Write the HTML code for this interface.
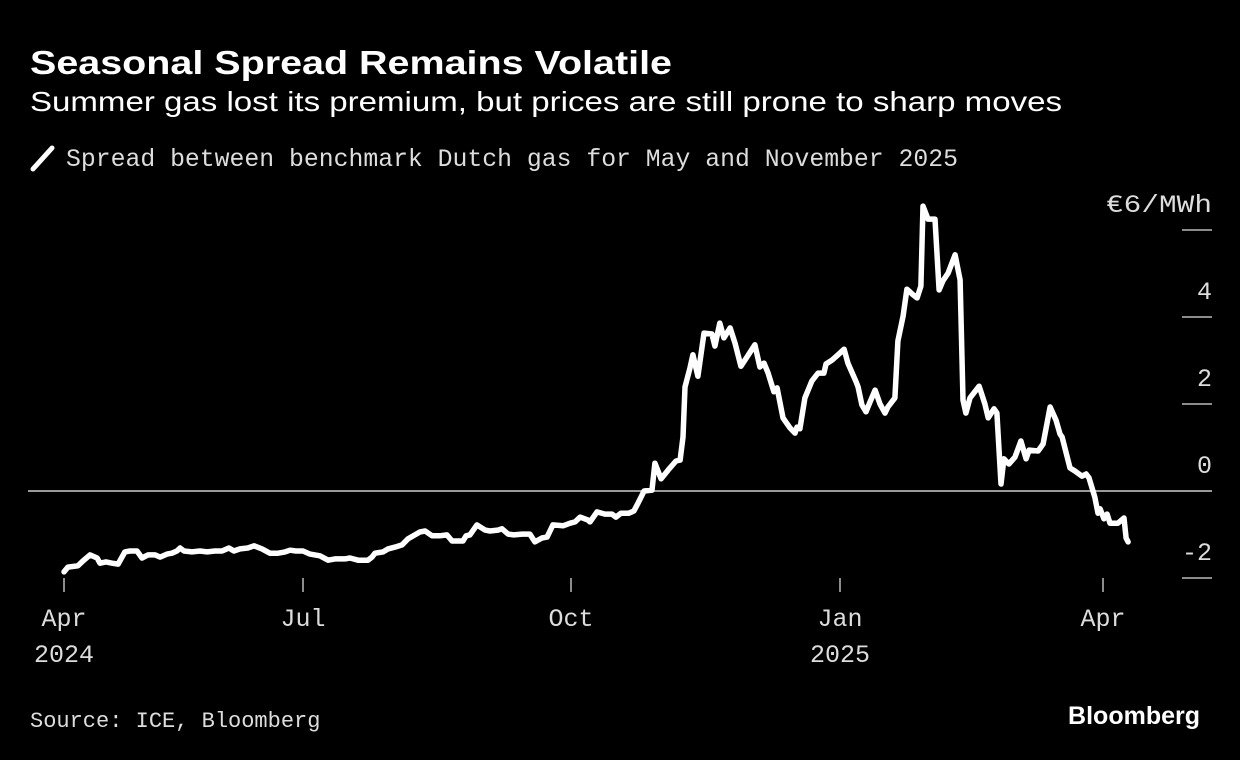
<!DOCTYPE html>
<html><head><meta charset="utf-8"><style>
body{margin:0;background:#000;width:1240px;height:760px;overflow:hidden}
svg{display:block}
.mono{font-family:"Liberation Mono","DejaVu Sans Mono",monospace}
.sans{font-family:"Liberation Sans",sans-serif}
</style></head><body>
<svg id="chart" width="1240" height="760">
<text x="30" y="74" class="sans" font-size="33" font-weight="bold" fill="#fff" textLength="642" lengthAdjust="spacingAndGlyphs">Seasonal Spread Remains Volatile</text>
<text x="30" y="111" class="sans" font-size="28" fill="#fff" textLength="1032" lengthAdjust="spacingAndGlyphs">Summer gas lost its premium, but prices are still prone to sharp moves</text>
<line x1="33" y1="169" x2="52" y2="148" stroke="#fff" stroke-width="5" stroke-linecap="round"/>
<text x="66" y="166" class="mono" font-size="25" fill="#ddd" textLength="892" lengthAdjust="spacingAndGlyphs">Spread between benchmark Dutch gas for May and November 2025</text>
<g id="yaxis"></g>
<g id="xaxis"></g>
<g id="series"></g>
<text x="30" y="727" class="mono" font-size="22" fill="#ddd">Source: ICE, Bloomberg</text>
<text x="1200" y="724" text-anchor="end" class="sans" font-size="25" font-weight="bold" fill="#fff">Bloomberg</text>
</svg>
<script>
const days=[0,1.5,5.3,7.2,9.9,12.6,13.7,16,18.3,20.6,23.2,25.1,27.8,29.7,32,34.7,36.6,39.2,41.1,43,44.2,45.7,48.7,51.8,54.5,57.5,60.2,62.8,64.7,67,70,72.4,75.4,78.4,81.5,84.2,86.1,88.3,91,
93.4,96.8,99.6,102,105.4,107.1,109.9,113.3,114.7,115.7,118.5,120.2,122.6,125,127,129.4,131.2,132.9,135.3,138,140.4,142.2,145.9,147,148.3,150.7,153.5,155.2,157.9,159.3,161.4,163.4,166.2,168.9,170.6,173,174.8,176.8,180.3,182.7,
184.4,186.1,188.8,189.5,191.9,194.6,197,198.4,200.1,202.8,204.5,205.9,208,210.7,211.7,213.8,216.2,218.9,220.3,221.3,222,223.7,224.7,226.4,228.5,231.2,232.2,233.9,235.3,237.4,239.1,241.1,243.2,245.9,247.6,249,250.4,252.4,253.5,255.5,257.9,259.6,260.3,261.3,263,265.4,267.5,269.5,270.2,272.3,274.3,
276.4,277.7,280.5,281.2,282.5,283.9,285.3,287,288.7,290.4,291.4,293.8,294.8,296.6,297.9,300,301.4,302.7,303.4,305.1,307.5,308.9,310.2,312,314.4,316.1,317.1,318.1,319.5,322.6,324.6,325.7,327.7,328.7,330.1,331.1,332.8,334.9,336.9,338.7,339.7,342.8,344.5,346.9,348.9,350.3,351,353.7,355.4,357.8,359.2,360.2,362.2,363.3,364,365.3,366.4,367.4,370.1,372.2,372.9,373.6];
const values=[-1.86,-1.75,-1.72,-1.61,-1.47,-1.54,-1.66,-1.63,-1.66,-1.68,-1.40,-1.38,-1.38,-1.54,-1.47,-1.47,-1.52,-1.45,-1.43,-1.38,-1.31,-1.38,-1.40,-1.38,-1.40,-1.38,-1.38,-1.31,-1.38,-1.33,-1.31,-1.26,-1.33,-1.43,-1.43,-1.40,-1.36,-1.38,-1.38,
-1.45,-1.49,-1.59,-1.56,-1.56,-1.54,-1.59,-1.59,-1.52,-1.43,-1.40,-1.33,-1.29,-1.24,-1.10,-1.01,-0.94,-0.92,-1.03,-1.03,-1.01,-1.15,-1.15,-1.03,-1.01,-0.78,-0.90,-0.92,-0.90,-0.87,-0.99,-1.01,-0.99,-0.99,-1.17,-1.08,-1.06,-0.78,-0.80,-0.74,
-0.71,-0.60,-0.67,-0.71,-0.48,-0.53,-0.53,-0.60,-0.51,-0.51,-0.46,-0.28,0,0.02,0.64,0.28,0.48,0.69,0.71,1.24,2.39,2.83,3.13,2.64,3.63,3.61,3.33,3.86,3.52,3.75,3.40,2.87,3.08,3.36,2.85,2.94,2.71,2.28,2.37,1.68,1.45,1.33,1.47,1.43,2.14,2.53,2.71,2.71,2.92,3.01,3.13,
3.26,2.94,2.51,2.39,1.98,1.82,2.05,2.32,2.00,1.79,1.93,2.14,3.45,4.02,4.64,4.51,4.44,4.71,6.55,6.25,6.25,4.62,4.83,5.01,5.43,4.85,2.09,1.79,2.14,2.41,2.00,1.68,1.89,1.79,0.16,0.74,0.62,0.78,1.15,0.74,0.94,0.92,1.08,1.93,1.63,1.31,1.24,0.53,0.46,0.34,0.39,0.30,-0.14,-0.51,-0.41,-0.64,-0.53,-0.74,-0.74,-0.62,-1.08,-1.17];
const yTicks=[6,4,2,0,-2];
const yTickLabels=["€6/MWh","4","2","0","-2"];
const xTickDays=[0,91,183,275,365];
const xTickLabels=[["Apr","2024"],["Jul",""],["Oct",""],["Jan","2025"],["Apr",""]];
const xAnchorPx=[64,303,571,840,1103];
const NS="http://www.w3.org/2000/svg";
function y(v){return 491-v*43.5;}
function x(d){
  for(let i=0;i<xTickDays.length-1;i++){
    if(d<=xTickDays[i+1]||i===xTickDays.length-2){
      const t=(d-xTickDays[i])/(xTickDays[i+1]-xTickDays[i]);
      return xAnchorPx[i]+t*(xAnchorPx[i+1]-xAnchorPx[i]);
    }
  }
}
function mk(tag,attrs,parent){const e=document.createElementNS(NS,tag);for(const k in attrs)e.setAttribute(k,attrs[k]);parent.appendChild(e);return e;}
const ya=document.getElementById('yaxis');
yTicks.forEach((v,i)=>{
  if(v!==0){
    const l=mk('line',{x1:1182,x2:1212,y1:y(v),y2:y(v),stroke:'#bbb','stroke-width':1.5},ya);
    
    
  }
  const attrs={x:1212,y:y(v)-18,'text-anchor':'end',fill:'#ddd','font-size':25,'class':'mono'};
  if(i===0){attrs.textLength=106;attrs.lengthAdjust='spacingAndGlyphs';}
  const t=mk('text',attrs,ya);
  t.textContent=yTickLabels[i];
  
  
});
const zl=mk('line',{x1:28,x2:1212,y1:y(0),y2:y(0),stroke:'#ccc','stroke-width':1.5},ya);


const xa=document.getElementById('xaxis');
xTickDays.forEach((d,i)=>{
  const l=mk('line',{x1:x(d),x2:x(d),y1:578,y2:592,stroke:'#bbb','stroke-width':1.5},xa);
  
  
  const t=mk('text',{x:x(d),y:626,'text-anchor':'middle',fill:'#ddd','font-size':25,'class':'mono'},xa);
  t.textContent=xTickLabels[i][0];
  
  
  if(xTickLabels[i][1]){
    const t2=mk('text',{x:x(d),y:662,'text-anchor':'middle',fill:'#ddd','font-size':25,'class':'mono'},xa);
    t2.textContent=xTickLabels[i][1];
    
    
  }
});
const pts=days.map((d,i)=>x(d).toFixed(1)+','+y(values[i]).toFixed(1)).join(' ');
const pl=mk('polyline',{points:pts,fill:'none',stroke:'#fff','stroke-width':5.5,'stroke-linejoin':'round','stroke-linecap':'round'},document.getElementById('series'));


</script>
</body></html>
